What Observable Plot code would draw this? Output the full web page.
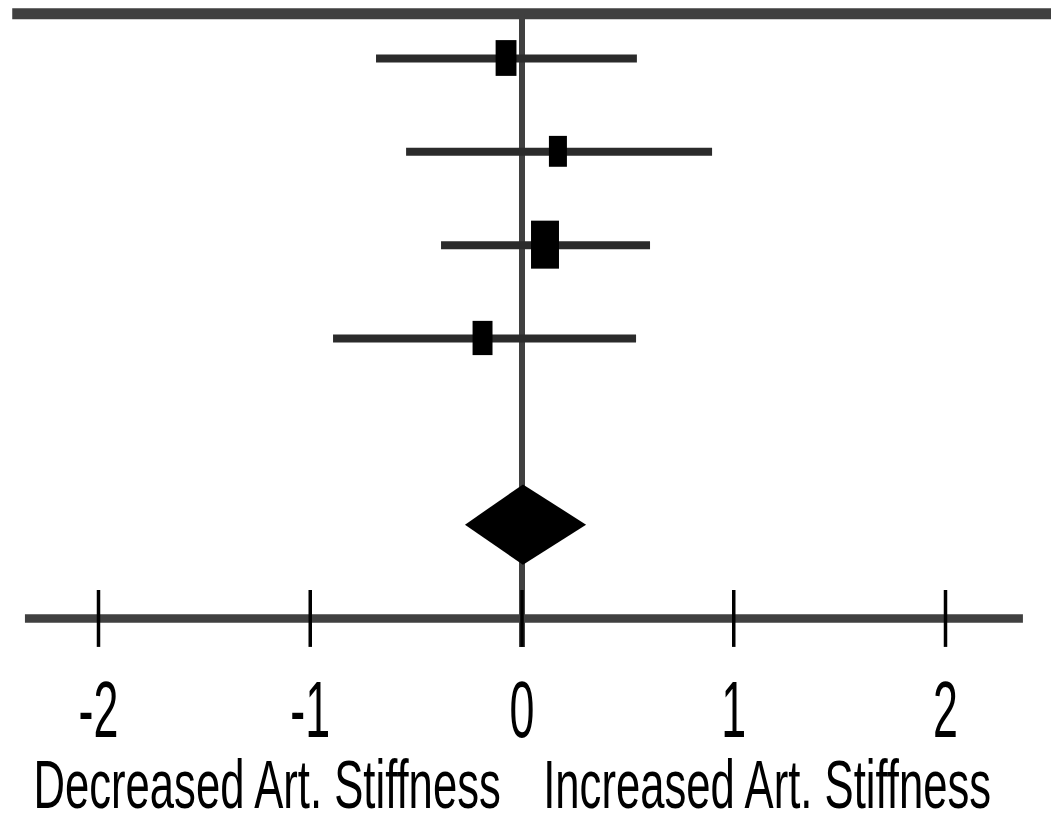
<!DOCTYPE html>
<html><head><meta charset="utf-8">
<script src="https://cdn.jsdelivr.net/npm/d3@7"></script>
<script src="https://cdn.jsdelivr.net/npm/@observablehq/plot@0.6"></script>
<style>html,body{margin:0;padding:0;background:#fff;}</style>
</head><body><div id="chart"></div>
<script>
// Forest plot data
const studyRows = [0, 1, 2, 3];
const estimates = [-0.073, 0.172, 0.111, -0.184];
const ciLower = [-0.687, -0.545, -0.380, -0.890];
const ciUpper = [0.545, 0.900, 0.607, 0.541];
const weights = [22.4, 16.7, 40.3, 20.5];
const pooledRow = 5;
const pooledEstimate = 0.007;
const pooledLower = -0.267;
const pooledUpper = 0.305;
const xTicks = [-2, -1, 0, 1, 2];
const sideLabels = ["Decreased Art. Stiffness", "Increased Art. Stiffness"];

const studies = studyRows.map((row, i) => ({row, est: estimates[i], lo: ciLower[i], hi: ciUpper[i], w: weights[i]}));
const BOX_X = 0.0104, BOX_Y = 0.0405, DIAMOND_HALF = 0.43;
const diamond = [
  {y: pooledRow - DIAMOND_HALF, x1: pooledEstimate, x2: pooledEstimate},
  {y: pooledRow, x1: pooledLower, x2: pooledUpper},
  {y: pooledRow + DIAMOND_HALF, x1: pooledEstimate, x2: pooledEstimate}
];
const topRow = -0.48, axisRow = 6, tickTop = 5.70, tickBottom = 6.31;
const TICK_SX = 0.56, TITLE_SX = 0.642;

const plot = Plot.plot({
  width: 1051, height: 823,
  marginTop: 0, marginBottom: 176, marginLeft: 0, marginRight: 0,
  style: {fontFamily: "'Liberation Sans', Arial, sans-serif", background: "#fff", color: "#000"},
  x: {domain: [-2.4628, 2.5006]},
  y: {domain: [-0.6214, 6.311], reverse: true, axis: null},
  marks: [
    Plot.ruleY([topRow], {x1: -2.405, x2: 2.5006, stroke: "#404040", strokeWidth: 11}),
    Plot.ruleX([0], {y1: topRow, y2: tickBottom, stroke: "#404040", strokeWidth: 6}),
    Plot.ruleY([axisRow], {x1: -2.345, x2: 2.368, stroke: "#404040", strokeWidth: 8.5}),
    Plot.ruleX(xTicks, {y1: tickTop, y2: tickBottom, stroke: "#000", strokeWidth: 3.5}),
    Plot.ruleY(studies, {y: "row", x1: "lo", x2: "hi", stroke: "#2b2b2b", strokeWidth: 8}),
    Plot.rect(studies, {
      x1: d => d.est - BOX_X * Math.sqrt(d.w), x2: d => d.est + BOX_X * Math.sqrt(d.w),
      y1: d => d.row - BOX_Y * Math.sqrt(d.w), y2: d => d.row + BOX_Y * Math.sqrt(d.w),
      fill: "#000"
    }),
    Plot.areaX(diamond, {y: "y", x1: "x1", x2: "x2", fill: "#000", curve: "linear"}),
    Plot.axisX({ticks: xTicks, tickSize: 0, tickPadding: 33, fontSize: 80, tickFormat: d => String(d), label: null, anchor: "bottom", fill: "#000", className: "tick-labels"}),
    Plot.text([sideLabels[0]], {x: () => -0.1, frameAnchor: "bottom", textAnchor: "end", lineAnchor: "top", dy: 112, fontSize: 68, fill: "#000", className: "side-labels"}),
    Plot.text([sideLabels[1]], {x: () => 0.1, frameAnchor: "bottom", textAnchor: "start", lineAnchor: "top", dy: 112, fontSize: 68, fill: "#000", className: "side-labels"})
  ]
});

function squeeze(sel, sx) {
  sel.each(function() {
    const t = this.getAttribute("transform");
    if (t) {
      this.setAttribute("transform", t + ` scale(${sx},1)`);
    } else {
      const x = +this.getAttribute("x") || 0, y = +this.getAttribute("y") || 0;
      this.removeAttribute("x"); this.removeAttribute("y");
      this.setAttribute("transform", `translate(${x},${y}) scale(${sx},1)`);
    }
  });
}
const root = d3.select(plot);
squeeze(root.selectAll(".side-labels text"), TITLE_SX);
squeeze(root.selectAll("text").filter(function() { return !this.closest(".side-labels"); }), TICK_SX);

document.getElementById("chart").appendChild(plot);
</script>
</body></html>
